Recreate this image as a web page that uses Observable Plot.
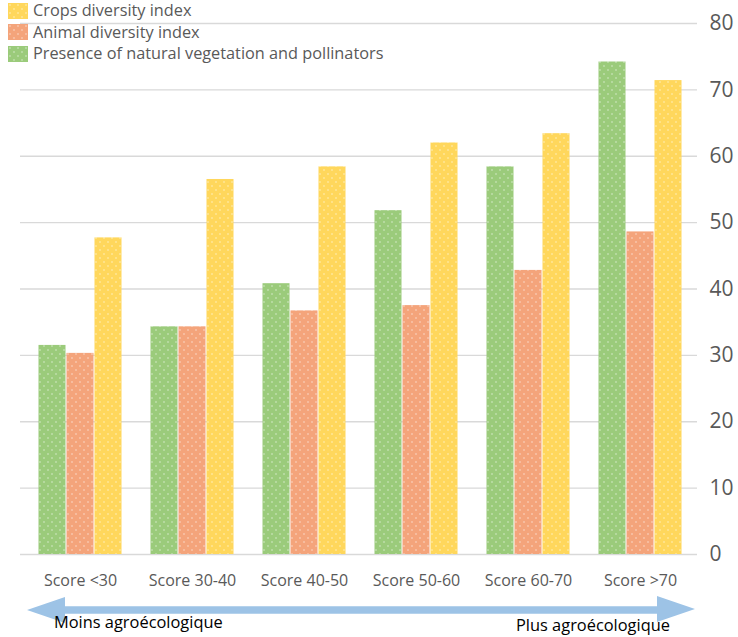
<!DOCTYPE html>
<html>
<head>
<meta charset="utf-8">
<script src="https://cdn.jsdelivr.net/npm/d3@7"></script>
<script src="https://cdn.jsdelivr.net/npm/@observablehq/plot@0.6"></script>
<style>
  body { margin: 0; background: #fff; }
  #wrap { position: relative; width: 738px; height: 637px; overflow: hidden; background: #fff; font-family: "Open Sans", sans-serif; }
  #grid, #chart { position: absolute; left: 0; top: 0; }
  #legend { position: absolute; left: 8px; top: 0px; color: #595959; font-size: 16.3px; line-height: 21.5px; }
  #legend .item { display: flex; align-items: center; white-space: nowrap; }
  #legend .sw { width: 20px; height: 16px; margin-right: 5px; }
  #arrow { position: absolute; left: 0; top: 590px; }
  .note { position: absolute; font-size: 16.4px; line-height: 18px; color: #000; white-space: nowrap; }
</style>
</head>
<body>
<svg width="0" height="0" style="position:absolute">
  <defs>
    <pattern id="p-green" width="8" height="8" patternUnits="userSpaceOnUse">
      <rect width="8" height="8" fill="#9bcb7b"/>
      <circle cx="2" cy="2" r="0.8" fill="#fff" fill-opacity="0.6"/>
      <circle cx="6" cy="6" r="0.8" fill="#fff" fill-opacity="0.6"/>
    </pattern>
    <pattern id="p-orange" width="8" height="8" patternUnits="userSpaceOnUse">
      <rect width="8" height="8" fill="#f4a47b"/>
      <circle cx="2" cy="2" r="0.8" fill="#fff" fill-opacity="0.6"/>
      <circle cx="6" cy="6" r="0.8" fill="#fff" fill-opacity="0.6"/>
    </pattern>
    <pattern id="p-yellow" width="8" height="8" patternUnits="userSpaceOnUse">
      <rect width="8" height="8" fill="#ffd75c"/>
      <circle cx="2" cy="2" r="0.8" fill="#fff" fill-opacity="0.6"/>
      <circle cx="6" cy="6" r="0.8" fill="#fff" fill-opacity="0.6"/>
    </pattern>
  </defs>
</svg>
<div id="wrap">
  <div id="grid"></div>
  <div id="chart"></div>
  <div id="legend"></div>
  <svg id="arrow" width="738" height="40">
    <line x1="60" y1="20" x2="660" y2="20" stroke="#9dc3e6" stroke-width="7.5"/>
    <polygon points="27,20 65,7 65,33" fill="#9dc3e6"/>
    <polygon points="695,19 657,6 657,32" fill="#9dc3e6"/>
  </svg>
  <div class="note" style="left:54px; top:613px;">Moins agroécologique</div>
  <div class="note" style="left:516px; top:616px;">Plus agroécologique</div>
</div>
<script>
const categories = ["Score <30", "Score 30-40", "Score 40-50", "Score 50-60", "Score 60-70", "Score >70"];
const series = ["Presence of natural vegetation and pollinators", "Animal diversity index", "Crops diversity index"];
const vegetation = [31.5, 34.3, 40.8, 51.8, 58.4, 74.2];
const animal = [30.3, 34.3, 36.7, 37.5, 42.8, 48.6];
const crops = [47.7, 56.5, 58.4, 62.0, 63.4, 71.4];
const yTicks = [0, 10, 20, 30, 40, 50, 60, 70, 80];
const fills = ["url(#p-green)", "url(#p-orange)", "url(#p-yellow)"];
const legendOrder = [2, 1, 0];

const valuesBySeries = [vegetation, animal, crops];
const data = series.map((s, i) => categories.map((c, j) => ({cat: c, series: s, value: valuesBySeries[i][j]})));

const common = {width: 738, height: 590, marginTop: 23, marginBottom: 36};

const grid = Plot.plot({
  ...common,
  marginLeft: 20,
  marginRight: 41,
  style: {background: "transparent"},
  x: {axis: null},
  y: {domain: [0, 80], axis: null},
  marks: [Plot.ruleY(yTicks, {stroke: "#d9d9d9", strokeWidth: 1.3})]
});
document.getElementById("grid").appendChild(grid);

const chart = Plot.plot({
  ...common,
  marginLeft: 36,
  marginRight: 55,
  style: {fontFamily: "Open Sans, sans-serif", background: "transparent"},
  fx: {domain: categories, paddingInner: 0.254, paddingOuter: 0, label: null},
  x: {domain: series, axis: null, padding: 0},
  y: {domain: [0, 80], axis: null},
  marks: [
    ...data.map((d, i) => Plot.barY(d, {fx: "cat", x: "series", y: "value", fill: fills[i], insetLeft: 0.5, insetRight: 0.5})),
    Plot.axisY(yTicks, {anchor: "right", tickSize: 0, tickPadding: 27, fontSize: 21, color: "#595959", label: null}),
    Plot.axisFx({anchor: "bottom", tickSize: 0, tickPadding: 20.5, fontSize: 16, color: "#595959", label: null})
  ]
});
document.getElementById("chart").appendChild(chart);

const legend = document.getElementById("legend");
legendOrder.forEach(i => {
  const item = document.createElement("div");
  item.className = "item";
  const svgSw = document.createElementNS("http://www.w3.org/2000/svg", "svg");
  svgSw.setAttribute("width", 20); svgSw.setAttribute("height", 16);
  svgSw.setAttribute("class", "sw");
  const r = document.createElementNS("http://www.w3.org/2000/svg", "rect");
  r.setAttribute("width", 20); r.setAttribute("height", 16); r.setAttribute("fill", fills[i]);
  svgSw.appendChild(r);
  const t = document.createElement("span");
  t.textContent = series[i];
  item.appendChild(svgSw);
  item.appendChild(t);
  legend.appendChild(item);
});
</script>
</body>
</html>
